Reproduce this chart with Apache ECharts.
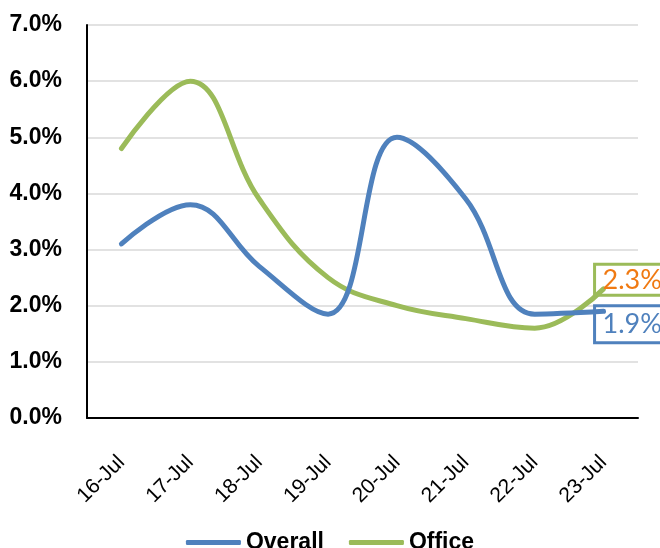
<!DOCTYPE html>
<html>
<head>
<meta charset="utf-8">
<script src="https://cdn.jsdelivr.net/npm/echarts@6/dist/echarts.min.js"></script>
<style>
  html, body { margin: 0; padding: 0; background: #fff; }
  #chart { width: 660px; height: 548px; }
</style>
</head>
<body>
<div id="chart"></div>
<script>
const days = ['16-Jul', '17-Jul', '18-Jul', '19-Jul', '20-Jul', '21-Jul', '22-Jul', '23-Jul']
const overall = [3.1, 3.8, 2.7, 1.85, 5.0, 3.9, 1.85, 1.9]
const office = [4.8, 6.0, 3.9, 2.5, 2.0, 1.77, 1.6, 2.3]
const yTicks = [0, 1, 2, 3, 4, 5, 6, 7]

const narrow = '"Liberation Sans Narrow", "Arial Narrow", "Liberation Sans", Arial, sans-serif'

// boxed value label at the end of a line
function endLabel(color, textColor, offsetY, pad) {
  return {
    show: true,
    distance: 0,
    align: 'left',
    verticalAlign: 'middle',
    offset: [-9, offsetY],
    formatter: (p) => p.value.toFixed(1) + '%',
    fontFamily: 'Lato, "Open Sans", sans-serif',
    fontSize: 27,
    color: textColor,
    borderColor: color,
    borderWidth: 1.5,
    backgroundColor: 'transparent',
    padding: pad
  }
}

const chart = echarts.init(document.getElementById('chart'))
const option = {
  animation: false,
  grid: {left: 87, right: 22, top: 25, bottom: 130},
  legend: {
    top: 526,
    left: 'center',
    icon: 'roundRect',
    itemWidth: 55,
    itemHeight: 5,
    itemGap: 25,
    textStyle: {fontFamily: narrow, fontWeight: 'bold', fontSize: 23, color: '#000'},
    data: ['Overall', 'Office']
  },
  xAxis: {
    type: 'category',
    data: days,
    boundaryGap: true,
    axisLine: {lineStyle: {color: '#000', width: 2}},
    axisTick: {show: false},
    axisLabel: {rotate: 45, margin: 41, fontFamily: narrow, fontSize: 21, color: '#000'}
  },
  yAxis: {
    type: 'value',
    min: yTicks[0],
    max: yTicks[yTicks.length - 1],
    interval: 1,
    axisLine: {show: true, lineStyle: {color: '#000', width: 2}},
    axisTick: {show: false},
    splitLine: {lineStyle: {color: '#d9d9d9', width: 1.5}},
    axisLabel: {
      margin: 25,
      formatter: (v) => v.toFixed(1) + '%',
      fontFamily: narrow, fontWeight: 'bold', fontSize: 23, color: '#000'
    }
  },
  series: [
    {
      name: 'Overall',
      type: 'line',
      smooth: 0.4,
      showSymbol: false,
      symbol: 'none',
      color: '#4f81bd',
      lineStyle: {width: 5, cap: 'round'},
      endLabel: endLabel('#4f81bd', '#4f81bd', 13, [5, 8]),
      data: overall,
      z: 3
    },
    {
      name: 'Office',
      type: 'line',
      smooth: 0.4,
      showSymbol: false,
      symbol: 'none',
      color: '#9bbb59',
      lineStyle: {width: 5, cap: 'round'},
      endLabel: endLabel('#9bbb59', '#f07a12', -9, [2, 8]),
      data: office,
      z: 2
    }
  ]
}
chart.setOption(option)
</script>
</body>
</html>
